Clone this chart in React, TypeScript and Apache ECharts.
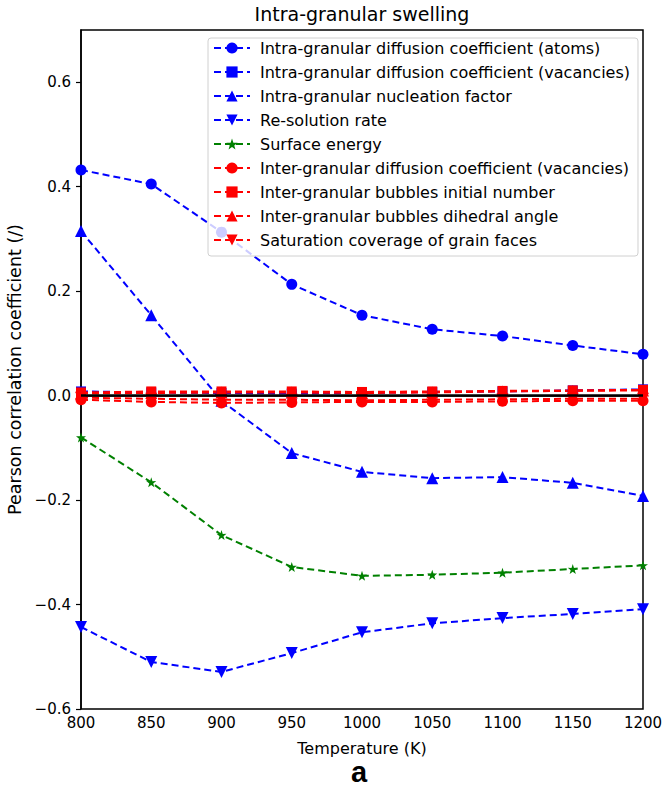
import React, { useEffect, useRef } from "react";
import * as echarts from "echarts";

const temperatures = [800, 850, 900, 950, 1000, 1050, 1100, 1150, 1200];
const yTicks = [-0.6, -0.4, -0.2, 0, 0.2, 0.4, 0.6];

const intraAtoms = [0.432, 0.405, 0.313, 0.213, 0.154, 0.127, 0.114, 0.096, 0.079];
const intraVacancies = [0.008, 0.006, 0.005, 0.004, 0.005, 0.007, 0.008, 0.01, 0.012];
const nucleation = [0.315, 0.154, -0.01, -0.11, -0.146, -0.158, -0.156, -0.167, -0.192];
const resolution = [-0.443, -0.51, -0.529, -0.493, -0.453, -0.436, -0.426, -0.418, -0.409];
const surfaceEnergy = [-0.08, -0.166, -0.267, -0.328, -0.345, -0.343, -0.339, -0.332, -0.325];
const interVacancies = [-0.008, -0.012, -0.014, -0.013, -0.012, -0.012, -0.011, -0.01, -0.01];
const interInitialNumber = [0.006, 0.008, 0.008, 0.008, 0.007, 0.008, 0.009, 0.01, 0.011];
const interDihedral = [0.004, 0.005, 0.006, 0.006, 0.005, 0.006, 0.008, 0.009, 0.01];
const saturation = [-0.004, -0.006, -0.008, -0.008, -0.009, -0.008, -0.007, -0.006, -0.006];

const seriesNames = [
  "Intra-granular diffusion coefficient (atoms)",
  "Intra-granular diffusion coefficient (vacancies)",
  "Intra-granular nucleation factor",
  "Re-solution rate",
  "Surface energy",
  "Inter-granular diffusion coefficient (vacancies)",
  "Inter-granular bubbles initial number",
  "Inter-granular bubbles dihedral angle",
  "Saturation coverage of grain faces",
];

const STAR =
  "path://M50,0 L61.8,35.1 L97.6,34.5 L69.1,56.9 L79.4,91 L50,70.5 L20.6,91 L30.9,56.9 L2.4,34.5 L38.2,35.1 Z";

const FONT = "DejaVu Sans";

export default function App() {
  const ref = useRef<HTMLDivElement>(null);
  useEffect(() => {
    const chart = echarts.init(ref.current!, undefined, { renderer: "svg" });
    const mk = (
      name: string,
      values: number[],
      color: string,
      symbol: string,
      size: number,
      rotate = 0
    ) => ({
      name,
      type: "line",
      data: temperatures.map((t, i) => [t, values[i]]),
      symbol,
      symbolSize: size,
      symbolRotate: rotate,
      showAllSymbol: true,
      color,
      itemStyle: { color },
      lineStyle: { color, width: 2, type: [7, 4] },
      z: 3,
    });
    const series: any[] = [
      mk(seriesNames[0], intraAtoms, "#0000ff", "circle", 11),
      mk(seriesNames[1], intraVacancies, "#0000ff", "rect", 10),
      mk(seriesNames[2], nucleation, "#0000ff", "triangle", 12),
      mk(seriesNames[3], resolution, "#0000ff", "triangle", 12, 180),
      mk(seriesNames[4], surfaceEnergy, "#008000", STAR, 10),
      mk(seriesNames[5], interVacancies, "#ff0000", "circle", 11),
      mk(seriesNames[6], interInitialNumber, "#ff0000", "rect", 10),
      mk(seriesNames[7], interDihedral, "#ff0000", "triangle", 12),
      mk(seriesNames[8], saturation, "#ff0000", "triangle", 12, 180),
      {
        name: "zero",
        type: "line",
        data: [
          [temperatures[0], 0],
          [temperatures[temperatures.length - 1], 0],
        ],
        symbol: "none",
        lineStyle: { color: "#000", width: 2.5, type: "solid" },
        z: 4,
      },
    ];
    chart.setOption({
      animation: false,
      title: {
        text: "Intra-granular swelling",
        left: 357,
        top: -1,
        textAlign: "center",
        textStyle: { fontFamily: FONT, fontSize: 19, fontWeight: "normal", color: "#000" },
      },
      graphic: [
        {
          type: "text",
          left: 351,
          top: 757,
          style: {
            text: "a",
            font: "bold 29px 'Liberation Sans'",
            fill: "#000",
          },
        },
      ],
      legend: {
        data: seriesNames,
        orient: "vertical",
        left: 208,
        top: 38,
        padding: [2, 8, 8, 5],
        itemGap: 8,
        itemWidth: 36,
        itemHeight: 14,
        backgroundColor: "rgba(255,255,255,0.8)",
        borderColor: "#d0d0d0",
        borderWidth: 1,
        borderRadius: 3,
        textStyle: {
          fontFamily: FONT,
          fontSize: 16,
          color: "#000",
          lineHeight: 14,
          padding: [0, 0, 0, 5],
        },
      },
      grid: {
        left: 81,
        top: 30,
        right: 24,
        bottom: 81,
        show: true,
        borderColor: "#000",
        borderWidth: 1.5,
        backgroundColor: "transparent",
        outerBoundsMode: "none",
        containLabel: false,
      },
      xAxis: {
        type: "value",
        min: 800,
        max: 1200,
        interval: 50,
        name: "Temperature (K)",
        nameLocation: "middle",
        nameGap: 31,
        nameTextStyle: { fontFamily: FONT, fontSize: 16, color: "#000" },
        axisLine: { lineStyle: { color: "#000", width: 1.5 } },
        axisTick: { show: true, length: 5, lineStyle: { color: "#000", width: 1.2 } },
        axisLabel: {
          fontFamily: FONT,
          fontSize: 15,
          color: "#000",
          margin: 6,
          formatter: (v: number) => String(v),
        },
        splitLine: { show: false },
      },
      yAxis: {
        type: "value",
        min: -0.6,
        max: 0.7,
        interval: 0.2,
        name: "Pearson correlation coefficient (/)",
        nameLocation: "middle",
        nameGap: 55,
        nameTextStyle: { fontFamily: FONT, fontSize: 17.5, color: "#000" },
        axisLine: { show: true, lineStyle: { color: "#000", width: 1.5 } },
        axisTick: {
          show: true,
          length: 5,
          lineStyle: { color: "#000", width: 1.2 },
          customValues: yTicks,
        },
        axisLabel: {
          fontFamily: FONT,
          fontSize: 15,
          color: "#000",
          margin: 10,
          customValues: yTicks,
          formatter: (v: number) => {
            const s = v.toFixed(1);
            return s === "-0.0" ? "0.0" : s.replace("-", "\u2212");
          },
        },
        splitLine: { show: false },
      },
      series,
    });
    return () => chart.dispose();
  }, []);
  return (
    <div
      ref={ref}
      style={{ position: "absolute", left: 0, top: 0, width: 667, height: 790 }}
    />
  );
}
